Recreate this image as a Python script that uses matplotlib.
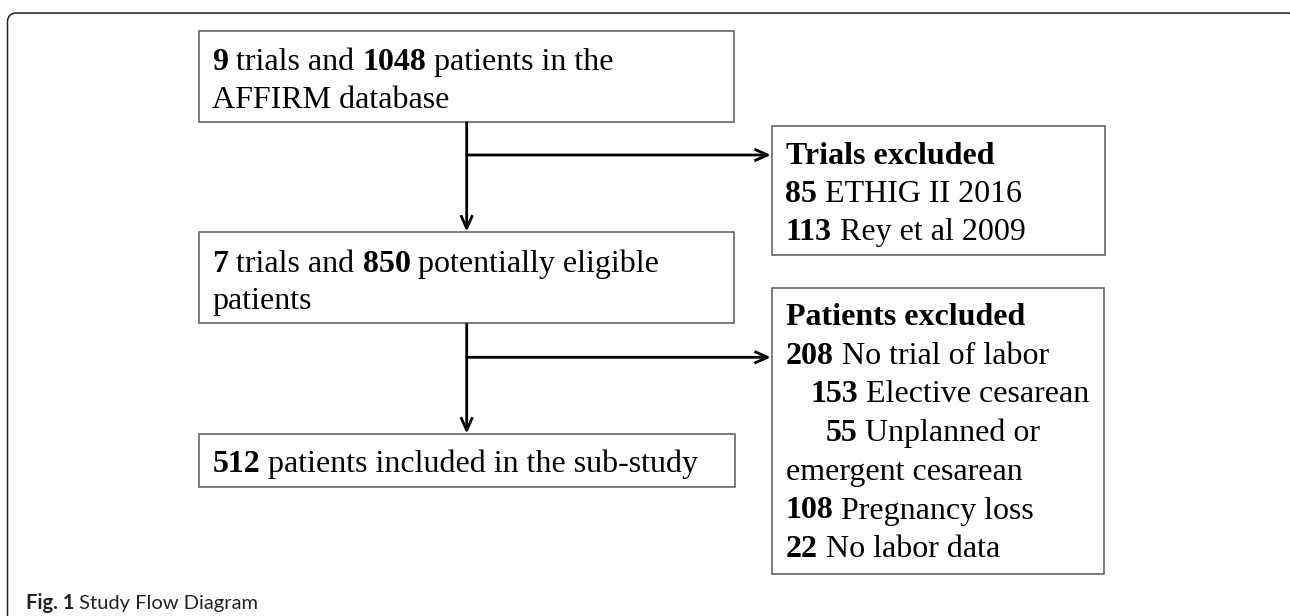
import matplotlib.pyplot as plt
from matplotlib.patches import Rectangle, FancyBboxPatch, FancyArrowPatch

# text of every box, one list of (text, bold) runs per line
box_all_trials = [
    [("9", True), (" trials and ", False), ("1048", True), (" patients in the", False)],
    [("AFFIRM database", False)],
]
box_eligible = [
    [("7", True), (" trials and ", False), ("850", True), (" potentially eligible", False)],
    [("patients", False)],
]
box_included = [
    [("512", True), (" patients included in the sub-study", False)],
]
box_trials_excluded = [
    [("Trials excluded", True)],
    [("85", True), (" ETHIG II 2016", False)],
    [("113", True), (" Rey et al 2009", False)],
]
box_patients_excluded = [
    [("Patients excluded", True)],
    [("208", True), (" No trial of labor", False)],
    [("153", True), (" Elective cesarean", False)],
    [("55", True), (" Unplanned or", False)],
    [("emergent cesarean", False)],
    [("108", True), (" Pregnancy loss", False)],
    [("22", True), (" No labor data", False)],
]
caption_runs = [("Fig. 1", True), (" Study Flow Diagram", False)]

# layout in pixels: box corners, text x, first baseline, line step, per-line indents
layout = {
    "all_trials": dict(box=(199, 30.7, 734, 121.7), tx=212.5, y0=70, dy=38.3, ind=None),
    "eligible": dict(box=(199, 232.3, 734, 323.3), tx=212.5, y0=271.7, dy=37, ind=None),
    "included": dict(box=(199, 434.3, 735, 486.7), tx=212.5, y0=471.7, dy=38, ind=None),
    "trials_excluded": dict(box=(772, 125.7, 1105, 255), tx=785.5, y0=163.5, dy=38.3, ind=None),
    "patients_excluded": dict(box=(772, 288.3, 1104, 574.3), tx=785.5, y0=325, dy=38.7,
                              ind=[0, 0, 25, 40, 0, 0, 0]),
}
contents = {
    "all_trials": box_all_trials,
    "eligible": box_eligible,
    "included": box_included,
    "trials_excluded": box_trials_excluded,
    "patients_excluded": box_patients_excluded,
}

W, H = 1290, 616
fig = plt.figure(figsize=(W / 100, H / 100), dpi=100)
ax = fig.add_axes([0, 0, 1, 1])
ax.set_xlim(0, W)
ax.set_ylim(H, 0)
ax.axis("off")
renderer = fig.canvas.get_renderer()

SERIF = "Liberation Serif"
FS = 23


def text_width(s, **kw):
    # bars around the string so leading/trailing spaces are counted
    t1 = ax.text(0, 0, "|" + s + "|", **kw)
    t2 = ax.text(0, 0, "||", **kw)
    w = t1.get_window_extent(renderer).width - t2.get_window_extent(renderer).width
    t1.remove()
    t2.remove()
    return w


def draw_runs(x, y, runs, **kw):
    for s, bold in runs:
        style = dict(kw, fontweight="bold" if bold else "normal")
        ax.text(x, y, s, va="baseline", ha="left", **style)
        x += text_width(s, **style)


# outer frame, open at the bottom
frame = FancyBboxPatch((7.5, 13), 1289, 640, boxstyle="round,pad=0,rounding_size=9",
                       fc="none", ec="#222222", lw=1.1, clip_on=True)
ax.add_patch(frame)

for key, lines in contents.items():
    L = layout[key]
    x0, y0, x1, y1 = L["box"]
    ax.add_patch(Rectangle((x0, y0), x1 - x0, y1 - y0, fc="white", ec="#5a5a5a", lw=1.1))
    for i, runs in enumerate(lines):
        ind = L["ind"][i] if L["ind"] else 0
        draw_runs(L["tx"] + ind, L["y0"] + i * L["dy"], runs,
                  fontsize=FS, family=SERIF, color="black")

# arrows
trunk_x = 466.7
arrow_kw = dict(arrowstyle="->,head_length=0.95,head_width=0.42", mutation_scale=10,
                color="black", lw=2.0, shrinkA=0, shrinkB=0, capstyle="butt")
for (ya, yb) in [(121.7, 232.3), (323.3, 434.3)]:
    ax.add_patch(FancyArrowPatch((trunk_x, ya), (trunk_x, yb - 0.5), **arrow_kw))
for yb in [155, 357.3]:
    ax.add_patch(FancyArrowPatch((trunk_x - 1, yb), (771, yb), **arrow_kw))

# caption
draw_runs(26, 609, caption_runs, fontsize=14.5, family="Lato", color="#222222")

fig.savefig("out.png", dpi=100)
